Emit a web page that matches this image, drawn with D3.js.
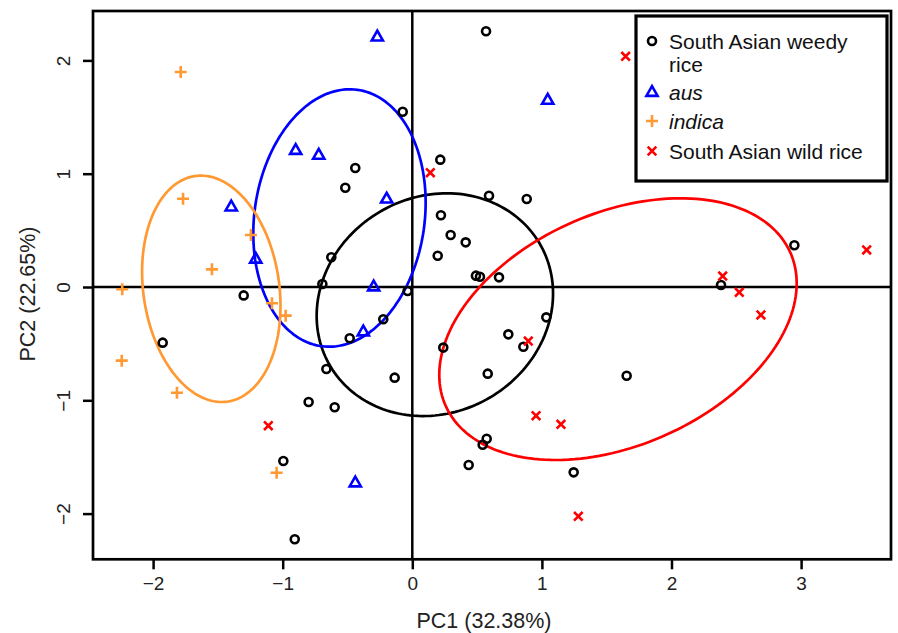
<!DOCTYPE html>
<html><head><meta charset="utf-8">
<script src="https://cdn.jsdelivr.net/npm/d3@7"></script>
<style>body{margin:0;background:#fff}svg{display:block;font-family:"Liberation Sans",Arial,sans-serif}</style>
</head><body>
<svg id="c" width="898" height="633"></svg>
<script>
// ---- data ----
const weedy = [[-0.44,1.05],[-0.517,0.876],[-0.625,0.262],[-0.694,0.026],[0.569,2.257],[-0.074,1.547],[0.216,1.124],[0.592,0.806],[0.883,0.777],[0.221,0.633],[0.296,0.459],[0.412,0.394],[0.196,0.276],[0.491,0.1],[0.522,0.091],[0.669,0.085],[2.948,0.368],[2.382,0.018],[-1.301,-0.074],[-1.926,-0.491],[-0.224,-0.285],[-0.483,-0.453],[-0.663,-0.724],[-0.8,-1.015],[-0.599,-1.062],[-0.995,-1.536],[-0.907,-2.227],[-0.036,-0.035],[1.034,-0.268],[0.741,-0.418],[0.857,-0.527],[0.239,-0.535],[-0.136,-0.8],[0.582,-0.765],[0.574,-1.339],[0.543,-1.392],[0.435,-1.571],[1.245,-1.636],[1.654,-0.783]];
const aus = [[-0.27,2.21],[-0.9,1.21],[-0.722,1.167],[-0.198,0.78],[-1.397,0.71],[-1.208,0.25],[-0.298,0.005],[1.045,1.652],[-0.378,-0.392],[-0.44,-1.725]];
const indica = [[-1.787,1.898],[-1.769,0.779],[-1.245,0.459],[-1.546,0.156],[-2.238,-0.02],[-1.083,-0.144],[-0.977,-0.253],[-2.242,-0.65],[-1.816,-0.933],[-1.047,-1.639]];
const wild = [[1.646,2.036],[0.139,1.009],[3.506,0.327],[2.395,0.097],[0.895,-0.477],[0.955,-1.136],[1.147,-1.212],[1.281,-2.024],[2.523,-0.047],[2.69,-0.247],[-1.111,-1.224]];
// ellipse params: [cx, cy, sx, sy, r]
const ellWeedy = [0.174,-0.156,0.912,0.983,0.10];
const ellAus = [-0.562,0.609,0.665,1.136,0.12];
const ellIndica = [-1.551,-0.016,0.534,0.999,-0.15];
const ellWild = [1.587,-0.372,1.379,1.155,0.35];
const xTicks = [-2,-1,0,1,2,3];
const yTicks = [-2,-1,0,1,2];
const legendLabels = [["South Asian weedy","rice"],["aus"],["indica"],["South Asian wild rice"]];
const xLabel = "PC1 (32.38%)", yLabel = "PC2 (22.65%)";

// ---- drawing ----
const svg = d3.select("#c");
const L=93,R=891,T=11,B=559.3;
const x = d3.scaleLinear().domain([(L-412.3)/129.6,(R-412.3)/129.6]).range([L,R]);
const y = d3.scaleLinear().domain([(287-B)/113.3,(287-T)/113.3]).range([B,T]);
const cols = {weedy:"#000000",aus:"#0000ff",indica:"#ff9933",wild:"#ff0000"};
const fmt = d3.format("d");

// zero lines
svg.append("line").attr("x1",L).attr("x2",R).attr("y1",y(0)).attr("y2",y(0)).attr("stroke","#000").attr("stroke-width",2.5);
svg.append("line").attr("y1",T).attr("y2",B).attr("x1",x(0)).attr("x2",x(0)).attr("stroke","#000").attr("stroke-width",2.5);

// ellipses
function ell(p){const [cx,cy,sx,sy,r]=p;const pts=d3.range(0,361,2).map(d=>{const t=d*Math.PI/180;return [cx+sx*Math.cos(t),cy+sy*(r*Math.cos(t)+Math.sqrt(1-r*r)*Math.sin(t))];});return pts;}
const line = d3.line().x(d=>x(d[0])).y(d=>y(d[1]));
[[ellWeedy,cols.weedy],[ellAus,cols.aus],[ellIndica,cols.indica],[ellWild,cols.wild]].forEach(([p,c])=>{
  svg.append("path").attr("d",line(ell(p))+"Z").attr("fill","none").attr("stroke",c).attr("stroke-width",2.7);
});

// markers
function marker(g,type,cx,cy,c){
  if(type==="circle") g.append("circle").attr("cx",cx).attr("cy",cy).attr("r",4).attr("fill","none").attr("stroke",c).attr("stroke-width",2.6);
  else if(type==="tri"){const s=5.6;g.append("path").attr("d",`M${cx},${cy-s*1.05}L${cx+s},${cy+s*0.7}L${cx-s},${cy+s*0.7}Z`).attr("fill","none").attr("stroke",c).attr("stroke-width",2.6).attr("stroke-linejoin","miter");}
  else if(type==="plus"){const s=6;g.append("path").attr("d",`M${cx-s},${cy}H${cx+s}M${cx},${cy-s}V${cy+s}`).attr("stroke",c).attr("stroke-width",2.6);}
  else {const s=4.3;g.append("path").attr("d",`M${cx-s},${cy-s}L${cx+s},${cy+s}M${cx-s},${cy+s}L${cx+s},${cy-s}`).attr("stroke",c).attr("stroke-width",2.6);}
}
const gp = svg.append("g");
weedy.forEach(d=>marker(gp,"circle",x(d[0]),y(d[1]),cols.weedy));
aus.forEach(d=>marker(gp,"tri",x(d[0]),y(d[1]),cols.aus));
indica.forEach(d=>marker(gp,"plus",x(d[0]),y(d[1]),cols.indica));
wild.forEach(d=>marker(gp,"x",x(d[0]),y(d[1]),cols.wild));

// axes
const xa = svg.append("g").attr("transform",`translate(0,${B})`).call(d3.axisBottom(x).tickValues(xTicks).tickFormat(fmt).tickSize(10).tickPadding(7).tickSizeOuter(0));
xa.select(".domain").remove();
xa.selectAll("line").attr("stroke-width",2.5);
xa.selectAll("text").attr("font-size",19).attr("fill","#222").attr("font-family","Liberation Sans, Arial, sans-serif");
const ya = svg.append("g").attr("transform",`translate(${L},0)`).call(d3.axisLeft(y).tickValues(yTicks).tickFormat(fmt).tickSize(10).tickSizeOuter(0));
ya.select(".domain").remove();
ya.selectAll("line").attr("stroke-width",2.5);
ya.selectAll("text").attr("font-size",19).attr("fill","#222").attr("font-family","Liberation Sans, Arial, sans-serif")
  .attr("x",0).attr("dy",null).attr("text-anchor","middle").attr("transform","translate(-23,0) rotate(-90)").attr("y",0);

// border
svg.append("rect").attr("x",L).attr("y",T).attr("width",R-L).attr("height",B-T).attr("fill","none").attr("stroke","#000").attr("stroke-width",2.7);

// axis labels
svg.append("text").attr("x",484).attr("y",628).attr("text-anchor","middle").attr("font-size",21.5).attr("fill","#222").text(xLabel);
svg.append("text").attr("transform","translate(35,294) rotate(-90)").attr("text-anchor","middle").attr("font-size",21.5).attr("fill","#222").text(yLabel);

// legend
const lg = svg.append("g");
lg.append("rect").attr("x",636).attr("y",16).attr("width",251).attr("height",165).attr("fill","#fff").attr("stroke","#000").attr("stroke-width",3.2);
const types=["circle","tri","plus","x"], lc=[cols.weedy,cols.aus,cols.indica,cols.wild];
const rowY=[41,92,121,151];
legendLabels.forEach((lab,i)=>{
  marker(lg,types[i],652,rowY[i],lc[i]);
  lab.forEach((t,j)=>{
    lg.append("text").attr("x",669).attr("y",rowY[i]+7.5+j*23).attr("font-size",21).attr("fill","#111")
      .attr("font-style",(i===1||i===2)?"italic":"normal").text(t);
  });
});
</script>
</body></html>
